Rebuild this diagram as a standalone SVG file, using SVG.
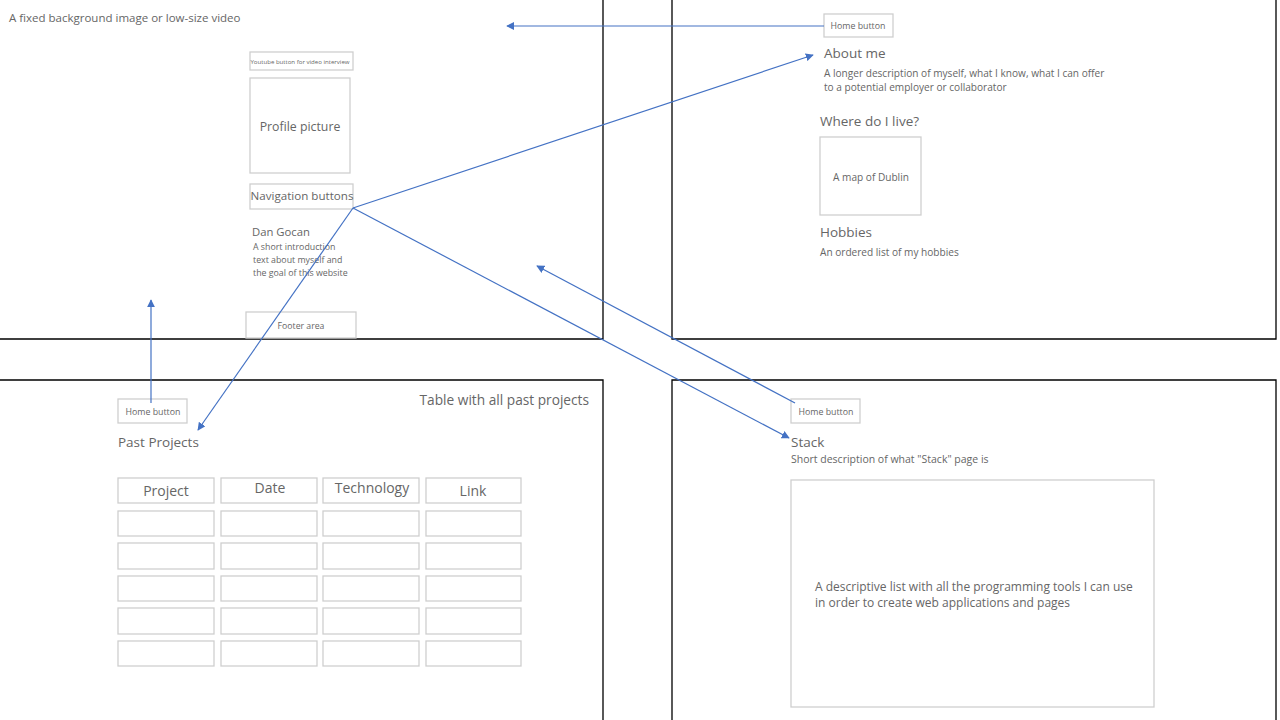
<svg xmlns="http://www.w3.org/2000/svg" width="1280" height="720" viewBox="0 0 1280 720">
<style>
text{font-family:"Open Sans","Noto Sans","Liberation Sans",sans-serif;fill:#666;}
.panel{fill:none;stroke:#000;stroke-width:1.3;}
.box{fill:#fff;stroke:#cfcfcf;stroke-width:1.3;}
.conn{fill:none;stroke:#4472c4;stroke-width:1.2;}
.h{font-size:14px;}
.s{font-size:10.1px;}
.hb{font-size:8.8px;}
.c{text-anchor:middle;}
</style>
<defs>
<marker id="arr" viewBox="0 0 10 10" refX="9" refY="5" markerWidth="8" markerHeight="8" markerUnits="userSpaceOnUse" orient="auto">
<path d="M0,0 L10,5 L0,10 Z" fill="#4472c4"/>
</marker>
</defs>
<rect width="1280" height="720" fill="#fff"/>
<g id="panels">
<path class="panel" d="M-2,339 H603 V-2"/>
<path class="panel" d="M672,-2 V339 H1276 V-2"/>
<path class="panel" d="M-2,380 H603 V722"/>
<path class="panel" d="M672,722 V380 H1276 V722"/>
</g>
<g id="home-page">
<text x="9" y="22" font-size="11.5">A fixed background image or low-size video</text>
<g id="youtube"><rect class="box" x="250" y="52" width="103" height="18"/><text class="c" x="300" y="64" font-size="6.1">Youtube button for video interview</text></g>
<g id="profile"><rect class="box" x="250" y="78" width="100" height="95"/><text class="c" x="300" y="131" font-size="12.3">Profile picture</text></g>
<g id="nav"><rect class="box" x="250" y="184" width="103" height="25"/><text class="c" x="302" y="200" font-size="11.6">Navigation buttons</text></g>
<g id="intro"><text x="252" y="236" font-size="11.3">Dan Gocan</text>
<text x="253" y="250" font-size="8.8">A short introduction</text>
<text x="253" y="263" font-size="8.8">text about myself and</text>
<text x="253" y="276" font-size="8.8">the goal of this website</text></g>
<g id="footer"><rect class="box" x="246" y="312" width="110" height="26"/><text class="c" x="301" y="329" font-size="8.7">Footer area</text></g>
</g>
<g id="about-page">
<g id="home-about"><rect class="box" x="824" y="14" width="69" height="23"/><text class="c hb" x="858" y="29">Home button</text></g>
<text x="824" y="58" font-size="13.5">About me</text>
<text x="824" y="77" class="s">A longer description of myself, what I know, what I can offer</text>
<text x="824" y="91" class="s">to a potential employer or collaborator</text>
<text x="820" y="126" font-size="13.5">Where do I live?</text>
<g id="map"><rect class="box" x="820" y="137" width="101" height="78"/><text class="c s" x="871" y="181">A map of Dublin</text></g>
<text x="820" y="237" font-size="13.5">Hobbies</text>
<text x="820" y="256" class="s">An ordered list of my hobbies</text>
</g>
<g id="projects-page">
<g id="home-projects"><rect class="box" x="118" y="399" width="69" height="24"/><text class="c hb" x="153" y="415">Home button</text></g>
<text x="118" y="447" font-size="13.5">Past Projects</text>
<text x="589" y="405" font-size="13.7" text-anchor="end">Table with all past projects</text>
<g id="table">
<rect class="box" x="118" y="478" width="96" height="25"/>
<rect class="box" x="221" y="478" width="96" height="25"/>
<rect class="box" x="323" y="478" width="96" height="25"/>
<rect class="box" x="426" y="478" width="95" height="25"/>
<text class="c h" x="166" y="496">Project</text>
<text class="c h" x="270" y="493">Date</text>
<text class="c h" x="372" y="493">Technology</text>
<text class="c h" x="473" y="496">Link</text>
<rect class="box" x="118" y="511" width="96" height="25"/><rect class="box" x="221" y="511" width="96" height="25"/><rect class="box" x="323" y="511" width="96" height="25"/><rect class="box" x="426" y="511" width="95" height="25"/>
<rect class="box" x="118" y="543" width="96" height="26"/><rect class="box" x="221" y="543" width="96" height="26"/><rect class="box" x="323" y="543" width="96" height="26"/><rect class="box" x="426" y="543" width="95" height="26"/>
<rect class="box" x="118" y="576" width="96" height="25"/><rect class="box" x="221" y="576" width="96" height="25"/><rect class="box" x="323" y="576" width="96" height="25"/><rect class="box" x="426" y="576" width="95" height="25"/>
<rect class="box" x="118" y="608" width="96" height="26"/><rect class="box" x="221" y="608" width="96" height="26"/><rect class="box" x="323" y="608" width="96" height="26"/><rect class="box" x="426" y="608" width="95" height="26"/>
<rect class="box" x="118" y="641" width="96" height="25"/><rect class="box" x="221" y="641" width="96" height="25"/><rect class="box" x="323" y="641" width="96" height="25"/><rect class="box" x="426" y="641" width="95" height="25"/>
</g>
</g>
<g id="stack-page">
<g id="home-stack"><rect class="box" x="791" y="399" width="69" height="24"/><text class="c hb" x="826" y="415">Home button</text></g>
<text x="791" y="447" font-size="13.5">Stack</text>
<text x="791" y="463" font-size="10.5">Short description of what "Stack" page is</text>
<g id="stack-list"><rect class="box" x="791" y="480" width="363" height="227"/>
<text x="815" y="591" font-size="12">A descriptive list with all the programming tools I can use</text>
<text x="815" y="607" font-size="12">in order to create web applications and pages</text></g>
</g>
<g id="connectors">
<line class="conn" x1="824" y1="26" x2="507" y2="26" marker-end="url(#arr)"/>
<line class="conn" x1="353" y1="208" x2="813" y2="55" marker-end="url(#arr)"/>
<line class="conn" x1="353" y1="208" x2="198" y2="430" marker-end="url(#arr)"/>
<line class="conn" x1="353" y1="208" x2="789" y2="438" marker-end="url(#arr)"/>
<line class="conn" x1="795" y1="403" x2="537" y2="266" marker-end="url(#arr)"/>
<line class="conn" x1="151" y1="403" x2="151" y2="300" marker-end="url(#arr)"/>
</g>
</svg>
